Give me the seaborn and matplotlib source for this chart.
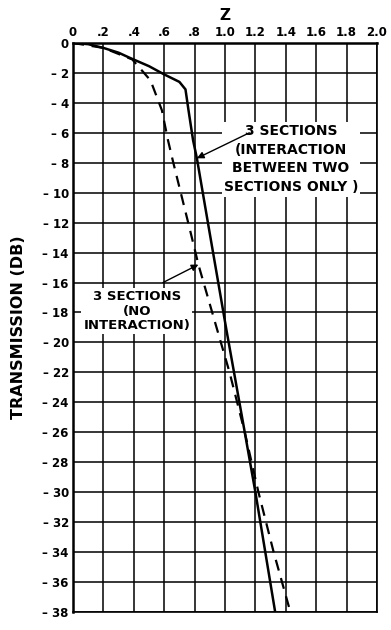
import matplotlib
matplotlib.use("Agg")
import matplotlib.pyplot as plt
import seaborn as sns
import pandas as pd

# curves
solid_z = [0.0, 0.1, 0.2, 0.3, 0.375, 0.5, 0.6, 0.70, 0.74, 0.76, 0.79, 0.815, 0.896, 1.01, 1.13, 1.20, 1.33]
solid_db = [0.0, -0.08, -0.33, -0.65, -1.0, -1.55, -2.1, -2.6, -3.1, -4.5, -6.5, -7.7, -12.5, -19.2, -26.0, -30.0, -38.0]

dashed_z = [0.0, 0.2, 0.39, 0.51, 0.585, 0.625, 0.66, 0.77, 0.825, 0.95, 1.03, 1.13, 1.22, 1.32, 1.43]
dashed_db = [0.0, -0.33, -1.1, -2.5, -4.5, -6.5, -8.0, -12.5, -14.8, -19.2, -22.0, -26.0, -30.0, -34.0, -38.0]

x_ticks = [0.0, 0.2, 0.4, 0.6, 0.8, 1.0, 1.2, 1.4, 1.6, 1.8, 2.0]
x_labels = ["0", ".2", ".4", ".6", ".8", "1.0", "1.2", "1.4", "1.6", "1.8", "2.0"]
y_ticks = list(range(0, -39, -2))
y_labels = ["0"] + ["\u2013 %d" % abs(v) for v in y_ticks[1:]]

sns.set_style("white")
plt.rcParams["font.family"] = ["DejaVu Sans"]
plt.rcParams["text.color"] = "black"
plt.rcParams["axes.labelcolor"] = "black"
plt.rcParams["xtick.color"] = "black"
plt.rcParams["ytick.color"] = "black"

fig = plt.figure(figsize=(3.91, 6.30), dpi=100)
ax = fig.add_axes([0.1867, 0.0286, 0.7775, 0.9032])

solid = pd.DataFrame({"z": solid_z, "db": solid_db})
dashed = pd.DataFrame({"z": dashed_z, "db": dashed_db})
sns.lineplot(data=dashed, x="z", y="db", ax=ax, color="black", lw=1.6,
             linestyle=(0, (5, 3.5)), sort=False, estimator=None)
sns.lineplot(data=solid, x="z", y="db", ax=ax, color="black", lw=1.8,
             sort=False, estimator=None)

ax.set_xlim(0, 2.0)
ax.set_ylim(-38, 0)
ax.set_xticks(x_ticks)
ax.set_xticklabels(x_labels, fontsize=8.5, fontweight="bold")
ax.set_yticks(y_ticks)
ax.set_yticklabels(y_labels, fontsize=8.5, fontweight="bold")
ax.xaxis.tick_top()
ax.xaxis.set_label_position("top")
ax.tick_params(length=0, pad=3)
ax.grid(True, color="black", lw=1.1)
for s in ax.spines.values():
    s.set_color("black")
    s.set_linewidth(1.2)
ax.spines["left"].set_linewidth(1.8)
ax.spines["top"].set_linewidth(1.8)

ax.set_xlabel("Z", fontsize=11, fontweight="bold", labelpad=4)
ax.set_ylabel("TRANSMISSION (DB)", fontsize=11.5, fontweight="bold", labelpad=12)

# callout labels (white boxes over the grid) and their arrows
box = dict(facecolor="white", edgecolor="none", pad=1.5)
ax.text(1.434, -7.75, "3 SECTIONS\n(INTERACTION\nBETWEEN TWO\nSECTIONS ONLY )",
        ha="center", va="center", fontsize=10, fontweight="bold",
        linespacing=1.45, bbox=box, zorder=4)
ax.text(0.42, -17.9, "3 SECTIONS\n(NO\nINTERACTION)",
        ha="center", va="center", fontsize=9.5, fontweight="bold",
        linespacing=1.14, bbox=box, zorder=4)

arrow = dict(arrowstyle="-|>", color="black", lw=1.0, shrinkA=0, shrinkB=0)
ax.annotate("", xy=(0.815, -7.7), xytext=(1.16, -6.0), arrowprops=arrow, zorder=5)
ax.annotate("", xy=(0.825, -14.8), xytext=(0.592, -16.0), arrowprops=arrow, zorder=5)

fig.savefig("out.png", dpi=100)
plt.close(fig)
